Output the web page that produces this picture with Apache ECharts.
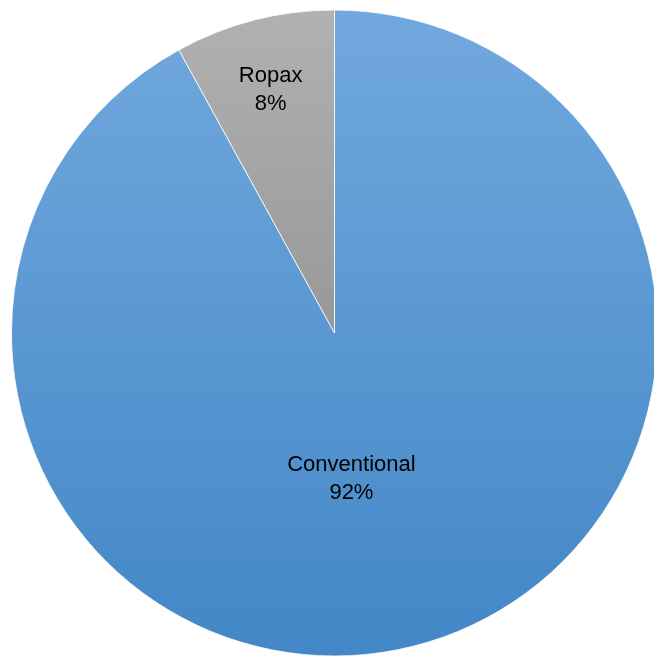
<!DOCTYPE html>
<html>
<head>
<meta charset="utf-8">
<style>html,body{margin:0;padding:0;background:#fff}#c{width:654px;height:658px}</style>
<script src="https://cdn.jsdelivr.net/npm/echarts@6/dist/echarts.min.js"></script>
</head>
<body>
<div id="c"></div>
<script>
var categories = ['Conventional', 'Ropax'];
var values = [92, 8];

var grad = function (a, b) {
  return new echarts.graphic.LinearGradient(0, 0, 0, 1, [
    { offset: 0, color: a }, { offset: 1, color: b }
  ]);
};
var fills = [grad('#71a8de', '#4387c7'), grad('#b1b1b1', '#989898')];
var offsets = [[-24, -13], [-23, -84]];

var chart = echarts.init(document.getElementById('c'));
chart.setOption({
  animation: false,
  series: [{
    type: 'pie',
    center: [334.5, 333],
    radius: [0, 323],
    startAngle: 90,
    clockwise: true,
    avoidLabelOverlap: false,
    itemStyle: { borderColor: '#ffffff', borderWidth: 0.8 },
    label: {
      show: true,
      position: 'inside',
      formatter: function (p) { return p.name + '\n' + Math.round(p.percent) + '%'; },
      fontFamily: 'Liberation Sans, Arial, sans-serif',
      fontSize: 22,
      lineHeight: 28,
      color: '#000'
    },
    labelLine: { show: false },
    emphasis: { disabled: true },
    data: categories.map(function (n, i) {
      return {
        name: n,
        value: values[i],
        itemStyle: { color: fills[i] },
        label: { offset: offsets[i] }
      };
    })
  }]
});
</script>
</body>
</html>
